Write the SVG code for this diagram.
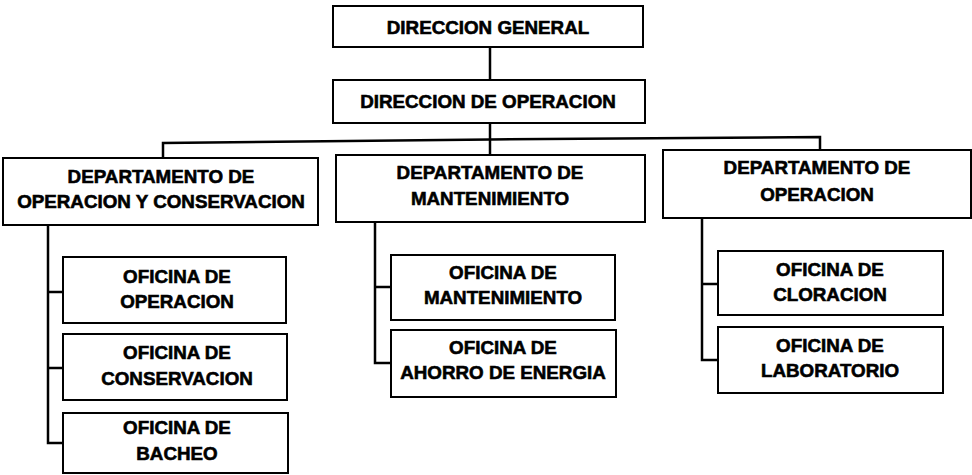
<svg xmlns="http://www.w3.org/2000/svg" width="972" height="475" viewBox="0 0 972 475">
<style>
.box{fill:#fff;stroke:#000;stroke-width:2}
.t{font-family:"Liberation Sans",Arial,sans-serif;font-weight:bold;font-size:18.8px;fill:#000;stroke:#000;stroke-width:0.6;text-anchor:middle}
.c{fill:none;stroke:#000;stroke-width:2.5}
</style>
<rect width="972" height="475" fill="#fff"/>
<g id="connectors">
<path class="c" d="M490,47V80"/>
<path class="c" d="M490,123V155"/>
<path class="c" d="M163,158V143L490,139.5L820,137V150"/>
<path class="c" d="M48,225V443H63M48,292H63M48,368H63"/>
<path class="c" d="M375,222V363H391M375,287H391"/>
<path class="c" d="M702,218V360H718M702,284H718"/>
</g>
<g id="direccion-general">
<rect class="box" x="333" y="6" width="310" height="41"/>
<text class="t" x="488" y="34">DIRECCION GENERAL</text>
</g>
<g id="direccion-operacion">
<rect class="box" x="333" y="80" width="312" height="43"/>
<text class="t" x="488" y="108">DIRECCION DE OPERACION</text>
</g>
<g id="depto-operacion-conservacion">
<rect class="box" x="3" y="158" width="315" height="67"/>
<text class="t" x="161" y="183">DEPARTAMENTO DE</text>
<text class="t" x="161" y="208">OPERACION Y CONSERVACION</text>
</g>
<g id="depto-mantenimiento">
<rect class="box" x="336" y="155" width="309" height="67"/>
<text class="t" x="490" y="179">DEPARTAMENTO DE</text>
<text class="t" x="490" y="205">MANTENIMIENTO</text>
</g>
<g id="depto-operacion">
<rect class="box" x="663" y="150" width="308" height="68"/>
<text class="t" x="817" y="174">DEPARTAMENTO DE</text>
<text class="t" x="817" y="201">OPERACION</text>
</g>
<g id="oficina-operacion">
<rect class="box" x="63" y="257" width="223" height="66"/>
<text class="t" x="177" y="283">OFICINA DE</text>
<text class="t" x="177" y="308">OPERACION</text>
</g>
<g id="oficina-conservacion">
<rect class="box" x="63" y="334" width="224" height="66"/>
<text class="t" x="177" y="359">OFICINA DE</text>
<text class="t" x="177" y="385">CONSERVACION</text>
</g>
<g id="oficina-bacheo">
<rect class="box" x="63" y="413" width="225" height="60"/>
<text class="t" x="177" y="434">OFICINA DE</text>
<text class="t" x="177" y="460">BACHEO</text>
</g>
<g id="oficina-mantenimiento">
<rect class="box" x="391" y="255" width="224" height="65"/>
<text class="t" x="503" y="279">OFICINA DE</text>
<text class="t" x="503" y="304">MANTENIMIENTO</text>
</g>
<g id="oficina-ahorro-energia">
<rect class="box" x="391" y="330" width="225" height="67"/>
<text class="t" x="503" y="354">OFICINA DE</text>
<text class="t" x="503" y="379">AHORRO DE ENERGIA</text>
</g>
<g id="oficina-cloracion">
<rect class="box" x="718" y="251" width="225" height="64"/>
<text class="t" x="830" y="276">OFICINA DE</text>
<text class="t" x="830" y="301">CLORACION</text>
</g>
<g id="oficina-laboratorio">
<rect class="box" x="718" y="327" width="225" height="66"/>
<text class="t" x="830" y="352">OFICINA DE</text>
<text class="t" x="830" y="377">LABORATORIO</text>
</g>
</svg>
